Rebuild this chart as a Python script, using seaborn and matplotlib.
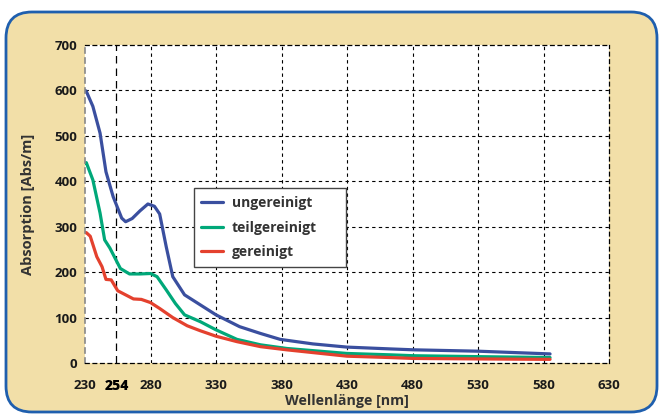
import matplotlib
matplotlib.use("Agg")
import matplotlib.pyplot as plt
from matplotlib.patches import FancyBboxPatch, Rectangle
import seaborn as sns
import pandas as pd

# ---------------- data ----------------
series_names = ["ungereinigt", "teilgereinigt", "gereinigt"]

blue_x = [230, 231, 236, 241.5, 246, 251.5, 258, 261, 266, 272, 278, 283, 287, 292, 297, 306, 318, 330, 348, 364, 379, 404, 430, 463, 481, 530, 585]
blue_y = [600, 598, 565, 506, 421, 366, 319, 311, 318, 335, 350, 345, 328, 256, 190, 150, 128, 106, 80, 65, 52, 42, 35, 31, 29, 26, 20]

green_x = [230, 231, 236, 241.5, 245, 249, 257, 264, 272, 280, 285, 292, 299, 306, 318, 330, 346, 364, 384, 430, 463, 481, 530, 585]
green_y = [440, 441, 403, 330, 271, 253, 208, 196, 196, 197, 190, 161, 131, 106, 91, 73, 52, 40, 32, 21, 18, 16, 14, 12]

red_x = [230, 231, 234, 239, 243, 246, 250, 255, 267, 273, 280, 287, 297, 308, 318, 330, 346, 364, 384, 430, 463, 481, 530, 585]
red_y = [287, 287, 279, 234, 212, 184, 183, 159, 141, 140, 133, 120, 100, 82, 71, 59, 47, 36, 29, 15, 12, 10, 9, 8]

x_ticks = [230, 254, 280, 330, 380, 430, 480, 530, 580, 630]
y_ticks = [0, 100, 200, 300, 400, 500, 600, 700]

colors = ["#3a4f9f", "#00a879", "#e4412e"]

df = pd.concat([
    pd.DataFrame({"x": blue_x, "y": blue_y, "Serie": series_names[0]}),
    pd.DataFrame({"x": green_x, "y": green_y, "Serie": series_names[1]}),
    pd.DataFrame({"x": red_x, "y": red_y, "Serie": series_names[2]}),
])

# ---------------- figure ----------------
sns.set_theme(style="white")
plt.rcParams["font.family"] = ["Open Sans", "DejaVu Sans"]

W, H = 659, 416
fig = plt.figure(figsize=(W / 100, H / 100), dpi=100)
fig.patch.set_facecolor("white")

bg = fig.add_axes([0, 0, 1, 1], zorder=0)
bg.set_xlim(0, W)
bg.set_ylim(H, 0)
bg.axis("off")
bg.add_patch(FancyBboxPatch((6, 12), 651, 400,
                            boxstyle="round,pad=0,rounding_size=26",
                            facecolor="#f2dfa8", edgecolor="#1f5fae", linewidth=2))

left, right, top, bottom = 85, 609, 45, 363
ax = fig.add_axes([left / W, 1 - bottom / H, (right - left) / W, (bottom - top) / H], zorder=1)
ax.set_facecolor("white")

sns.lineplot(data=df, x="x", y="y", hue="Serie", palette=colors, linewidth=2.3,
             ax=ax, sort=False, legend=True)

ax.set_xlim(230, 630)
ax.set_ylim(0, 700)
ax.set_xticks(x_ticks)
ax.set_yticks(y_ticks)
ax.set_xticklabels([str(t) for t in x_ticks], fontsize=9.5, fontweight="bold", color="#1a1a1a")
ax.set_yticklabels([str(t) for t in y_ticks], fontsize=9.5, fontweight="bold", color="#1a1a1a")
for lab in ax.get_xticklabels():
    if lab.get_text() == "254":
        lab.set_fontweight("heavy")
        lab.set_fontsize(10)
        lab.set_color("black")
ax.tick_params(axis="both", length=3, width=0.8, color="#333333", direction="inout")
ax.tick_params(axis="y", pad=4)
ax.tick_params(axis="x", pad=10)

# grid
for xv in x_ticks:
    if xv == 254:
        ax.axvline(xv, color="black", lw=0.9, ls=(0, (6, 4)), zorder=0.5)
    elif xv not in (230, 630):
        ax.axvline(xv, color="black", lw=0.8, ls=(0, (3, 3)), zorder=0.5)
for yv in y_ticks[1:-1]:
    ax.axhline(yv, color="black", lw=0.8, ls=(0, (3, 3)), zorder=0.5)

for name, sp in ax.spines.items():
    sp.set_visible(True)
    sp.set_linestyle((0, (3, 3)))
    sp.set_linewidth(0.9)
    sp.set_color("black")
ax.spines["left"].set_color("#888888")
ax.spines["left"].set_linewidth(1.2)

ax.set_xlabel("Wellenlänge [nm]", fontsize=10.3, fontweight="bold", color="#333333", labelpad=1)
ax.set_ylabel("Absorption [Abs/m]", fontsize=10.5, fontweight="bold", color="#333333", labelpad=14)

# legend: frame drawn as a fixed-size rectangle, entries from seaborn's handles
ax.add_patch(Rectangle((194, 188), 152, 79, transform=bg.transData,
                       facecolor="white", edgecolor="#444444", linewidth=1.0, zorder=4))
leg = ax.legend(loc="upper left", bbox_to_anchor=((197 - left) / (right - left), (bottom - 192) / (bottom - top)),
                borderaxespad=0, frameon=False, fontsize=10,
                handlelength=1.6, handletextpad=0.6, labelspacing=0.75,
                borderpad=0.3, title=None)
leg.set_zorder(5)
for t in leg.get_texts():
    t.set_fontweight("bold")
    t.set_color("#333333")

fig.savefig("out.png", dpi=100, facecolor="white")
